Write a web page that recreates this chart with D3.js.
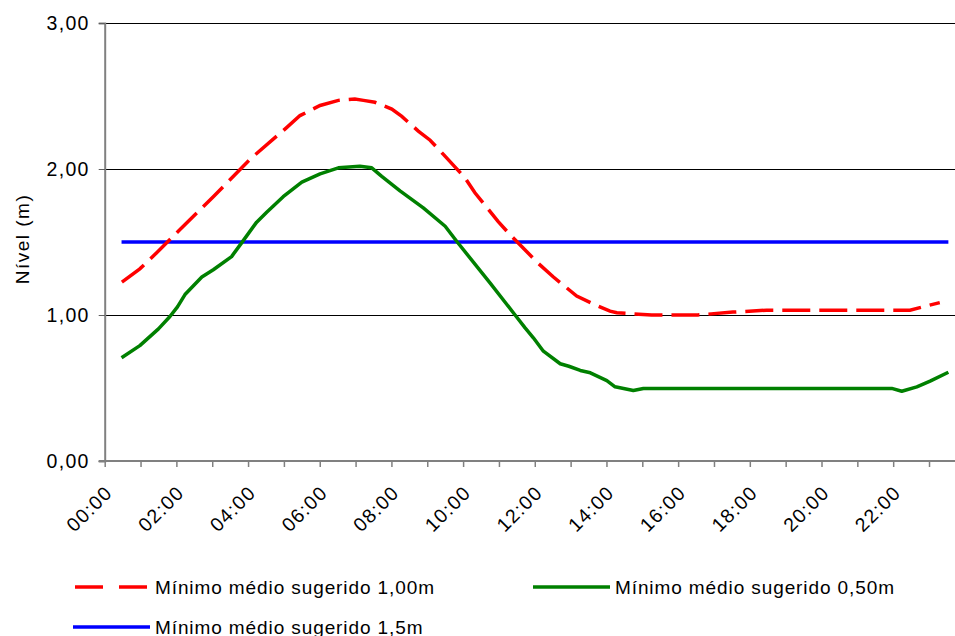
<!DOCTYPE html>
<html>
<head>
<meta charset="utf-8">
<script src="https://cdn.jsdelivr.net/npm/d3@7"></script>
<style>
  body { margin: 0; background: #fff; }
  svg { display: block; font-family: "Liberation Sans", Arial, sans-serif; }
</style>
</head>
<body>
<div id="chart"></div>
<script>
// time of day in hours
const redHours = [0.48, 0.98, 1.45, 2.08, 3.03, 4.10, 5.06, 5.45, 6.01, 6.52, 6.98, 7.22, 7.54, 8.01, 8.29, 8.75, 9.08, 9.45, 10.05, 10.33, 10.98, 11.31, 12.10, 12.52, 13.17, 13.59, 14.10, 14.29, 15.26, 16.55, 17.53, 18.47, 22.47, 23.30];
const redLevels = [1.225, 1.316, 1.426, 1.58, 1.81, 2.077, 2.28, 2.366, 2.435, 2.47, 2.48, 2.47, 2.457, 2.41, 2.36, 2.26, 2.197, 2.10, 1.94, 1.837, 1.64, 1.55, 1.353, 1.26, 1.13, 1.08, 1.026, 1.015, 1.0, 1.0, 1.02, 1.033, 1.033, 1.085];

const greenHours = [0.47, 0.98, 1.50, 1.82, 2.03, 2.24, 2.71, 3.03, 3.54, 3.82, 4.24, 4.52, 4.98, 5.50, 6.01, 6.52, 7.12, 7.45, 7.73, 8.24, 8.89, 9.50, 9.82, 10.75, 11.45, 11.73, 11.96, 12.24, 12.71, 12.95, 13.27, 13.55, 14.01, 14.24, 14.75, 15.03, 21.96, 22.24, 22.66, 23.03, 23.54];
const greenLevels = [0.707, 0.79, 0.905, 0.99, 1.056, 1.14, 1.26, 1.31, 1.40, 1.494, 1.636, 1.704, 1.81, 1.91, 1.967, 2.008, 2.019, 2.008, 1.95, 1.85, 1.734, 1.608, 1.505, 1.22, 1.0, 0.912, 0.844, 0.752, 0.666, 0.649, 0.62, 0.604, 0.551, 0.508, 0.483, 0.497, 0.497, 0.478, 0.508, 0.547, 0.608];

const blueHours = [0.47, 23.54];
const blueLevels = [1.5, 1.5];

const xTickHours = d3.range(0, 24);
const xTickLabels = ["00:00", "02:00", "04:00", "06:00", "08:00", "10:00", "12:00", "14:00", "16:00", "18:00", "20:00", "22:00"];
const yTicks = [0, 1, 2, 3];

const seriesNames = ["Mínimo médio sugerido 1,00m", "Mínimo médio sugerido 0,50m", "Mínimo médio sugerido 1,5m"];

const width = 955, height = 636;
const plotLeft = 104.7, plotTop = 23, plotBottom = 461;
const hourPx = 35.84;

const svg = d3.select("#chart").append("svg")
  .attr("width", width)
  .attr("height", height);

const x = d3.scaleLinear().domain([0, 24]).range([plotLeft, plotLeft + 24 * hourPx]);
const y = d3.scaleLinear().domain([0, 3]).range([plotBottom, plotTop]);

const fmt = d3.formatLocale({ decimal: ",", thousands: ".", grouping: [3], currency: ["", ""] }).format(".2f");

// gridlines
svg.append("g")
  .selectAll("line")
  .data(yTicks.filter(d => d > 0))
  .join("line")
  .attr("x1", plotLeft - 6).attr("x2", width)
  .attr("y1", d => Math.round(y(d)) + 0.5).attr("y2", d => Math.round(y(d)) + 0.5)
  .attr("stroke", "#000").attr("stroke-width", 1)
  .attr("shape-rendering", "crispEdges");

// y axis
const yAxis = svg.append("g").attr("transform", `translate(${plotLeft},0)`)
  .call(d3.axisLeft(y).tickValues(yTicks).tickFormat(fmt).tickSize(6).tickPadding(9));
yAxis.select(".domain").attr("stroke", "#808080").attr("stroke-width", 2);
yAxis.selectAll(".tick line").attr("stroke", "#606060");
yAxis.selectAll(".tick text")
  .attr("font-size", 19.5).attr("letter-spacing", "1.3px").attr("fill", "#000")
  .attr("font-family", "Liberation Sans, Arial, sans-serif");

// x axis
const xAxis = svg.append("g").attr("transform", `translate(0,${plotBottom})`)
  .call(d3.axisBottom(x).tickValues(xTickHours).tickFormat("").tickSize(6).tickSizeOuter(0));
xAxis.select(".domain").attr("stroke", "#808080").attr("stroke-width", 2)
  .attr("d", `M${plotLeft - 6},0H${width}`);
xAxis.selectAll(".tick line").attr("stroke", "#808080").attr("stroke-width", 1.5);

svg.append("g")
  .selectAll("text")
  .data(xTickLabels)
  .join("text")
  .attr("transform", (d, i) => `translate(${x(i * 2) + 9},${plotBottom + 33}) rotate(-45)`)
  .attr("text-anchor", "end")
  .attr("font-size", 19.5)
  .attr("letter-spacing", "1.3px")
  .text(d => d);

// y title
svg.append("text")
  .attr("transform", `translate(22,239) rotate(-90)`)
  .attr("text-anchor", "middle")
  .attr("dominant-baseline", "central")
  .attr("font-size", 19)
  .attr("letter-spacing", "1.5px")
  .text("Nível (m)");

// lines
const line = d3.line().x(d => x(d[0])).y(d => y(d[1]));

svg.append("path")
  .datum(blueHours.map((h, i) => [h, blueLevels[i]]))
  .attr("d", line)
  .attr("fill", "none").attr("stroke", "#0000FF").attr("stroke-width", 3.5);

svg.append("path")
  .datum(greenHours.map((h, i) => [h, greenLevels[i]]))
  .attr("d", line)
  .attr("fill", "none").attr("stroke", "#008000").attr("stroke-width", 3.5)
  .attr("stroke-linejoin", "round");

svg.append("path")
  .datum(redHours.map((h, i) => [h, redLevels[i]]))
  .attr("d", line)
  .attr("fill", "none").attr("stroke", "#FF0000").attr("stroke-width", 3.5)
  .attr("stroke-dasharray", "28,9");

// legend
const legendItems = [
  { name: seriesNames[0], color: "#FF0000", dash: "28,16", x0: 75, x1: 147, tx: 155, ty: 587 },
  { name: seriesNames[1], color: "#008000", dash: null, x0: 533, x1: 610, tx: 615, ty: 587 },
  { name: seriesNames[2], color: "#0000FF", dash: null, x0: 73, x1: 150, tx: 155, ty: 627 }
];

const legend = svg.append("g");
legend.selectAll("line")
  .data(legendItems)
  .join("line")
  .attr("x1", d => d.x0).attr("x2", d => d.x1)
  .attr("y1", d => d.ty).attr("y2", d => d.ty)
  .attr("stroke", d => d.color).attr("stroke-width", 3.5)
  .attr("stroke-dasharray", d => d.dash);

legend.selectAll("text")
  .data(legendItems)
  .join("text")
  .attr("x", d => d.tx).attr("y", d => d.ty)
  .attr("dominant-baseline", "central")
  .attr("font-size", 19)
  .attr("letter-spacing", "0.9px")
  .text(d => d.name);
</script>
</body>
</html>
